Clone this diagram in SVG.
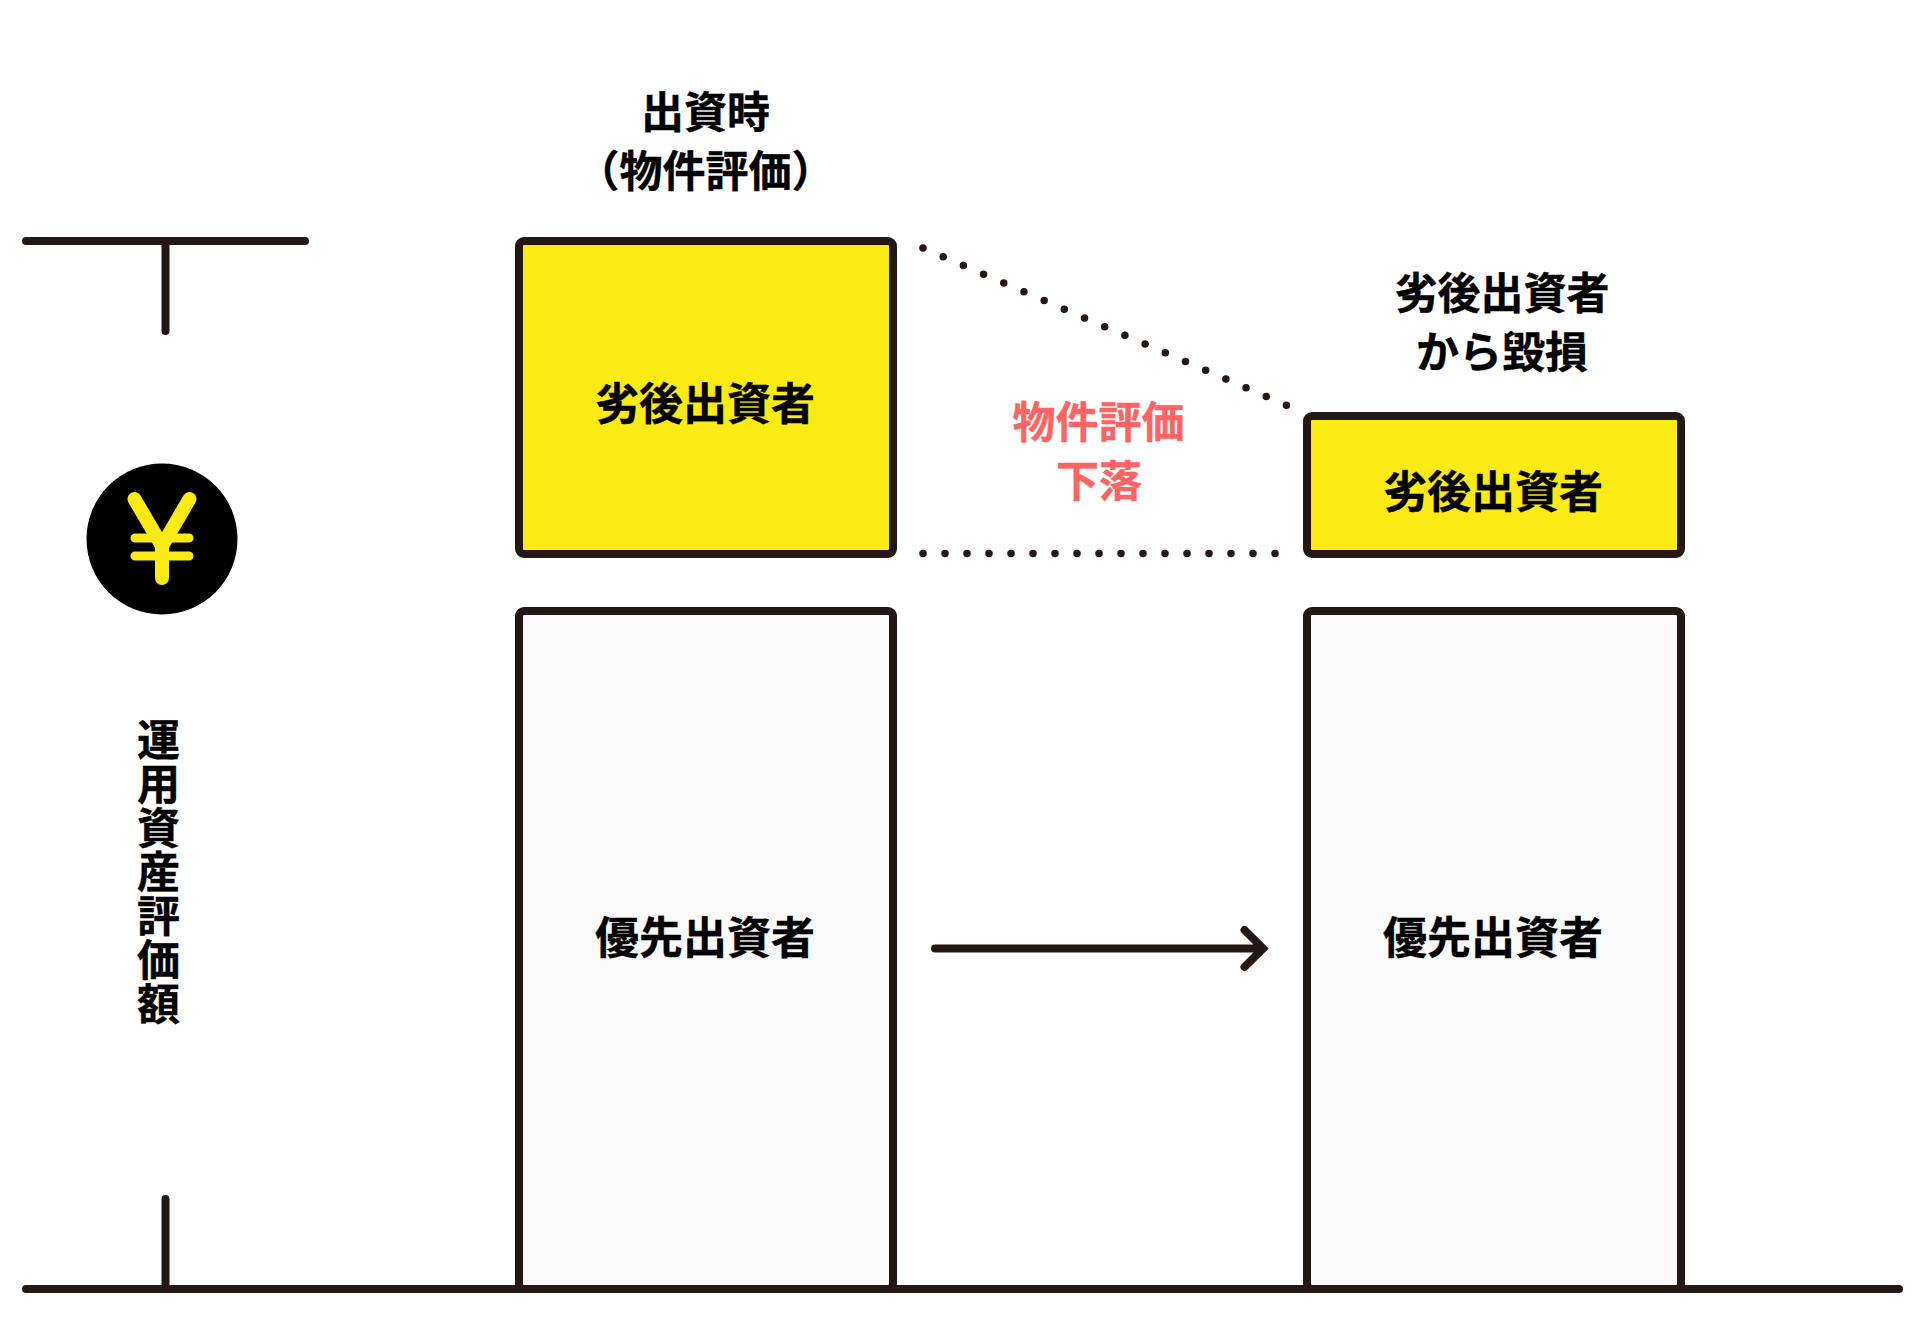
<svg xmlns="http://www.w3.org/2000/svg" width="1928" height="1320" viewBox="0 0 1928 1320">
<style>
.box{stroke:#231815;stroke-width:8;stroke-linejoin:round}
.y{fill:#FBEA14}.g{fill:#FAFAFA}
.ln{stroke:#231815;stroke-width:8;stroke-linecap:round;fill:none;stroke-linejoin:miter}
.dot{stroke:#231815;stroke-width:7.500;stroke-linecap:round;fill:none;stroke-dasharray:0 22}
text{font-family:"Noto Sans CJK JP","Noto Sans",sans-serif;font-weight:700;font-size:44px;fill:#000;text-anchor:middle;stroke:#000;stroke-width:.4px}
text.h{font-size:43px}
text.p{fill:#FF6464;stroke:#FF6464;font-size:43px}
.ym{stroke:#FBEA14;stroke-linecap:round;fill:none}
</style>
<rect width="1928" height="1320" fill="#fff"/>
<g id="axis">
<path class="ln" d="M26 241H305M165.500 241V331M26 1289H1899M165.500 1289V1199"/>
</g>
<g id="yen-icon">
<circle cx="162" cy="539" r="75.500" fill="#000"/>
<path class="ym" stroke-width="14" stroke-linejoin="miter" d="M134.500 499L162 546L189.500 499M162 546V578"/>
<path class="ym" stroke-width="9" d="M135 538H189M135 556H189"/>
</g>
<g id="axis-label">
<text x="158.500" y="718" style="writing-mode:vertical-rl;text-anchor:start;letter-spacing:1px;font-size:43px">運用資産評価額</text>
</g>
<g id="node-junior-before">
<rect class="box y" x="519" y="241" width="374" height="313" rx="5"/>
<text x="705" y="420">劣後出資者</text>
</g>
<g id="node-senior-before">
<rect class="box g" x="519" y="611" width="374" height="678" rx="5"/>
<text x="705" y="954">優先出資者</text>
</g>
<g id="node-junior-after">
<rect class="box y" x="1307" y="416" width="374" height="138" rx="5"/>
<text x="1493" y="508">劣後出資者</text>
</g>
<g id="node-senior-after">
<rect class="box g" x="1307" y="611" width="374" height="678" rx="5"/>
<text x="1493" y="954">優先出資者</text>
</g>
<g id="connectors">
<path class="ln" d="M935 948.500H1263M1244.500 930L1263 948.500L1244.500 967"/>
<path class="dot" d="M923 553.500H1285"/>
<path class="dot" d="M923 248L1287 405.500"/>
</g>
<g id="labels">
<text class="h" x="705.500" y="127.500">出資時</text>
<text class="h" x="705.500" y="186.500">（物件評価）</text>
<text class="h" x="1502" y="308.500">劣後出資者</text>
<text class="h" x="1502" y="368">から毀損</text>
<text class="p" x="1098.500" y="437.500">物件評価</text>
<text class="p" x="1099" y="496.500">下落</text>
</g>
</svg>
